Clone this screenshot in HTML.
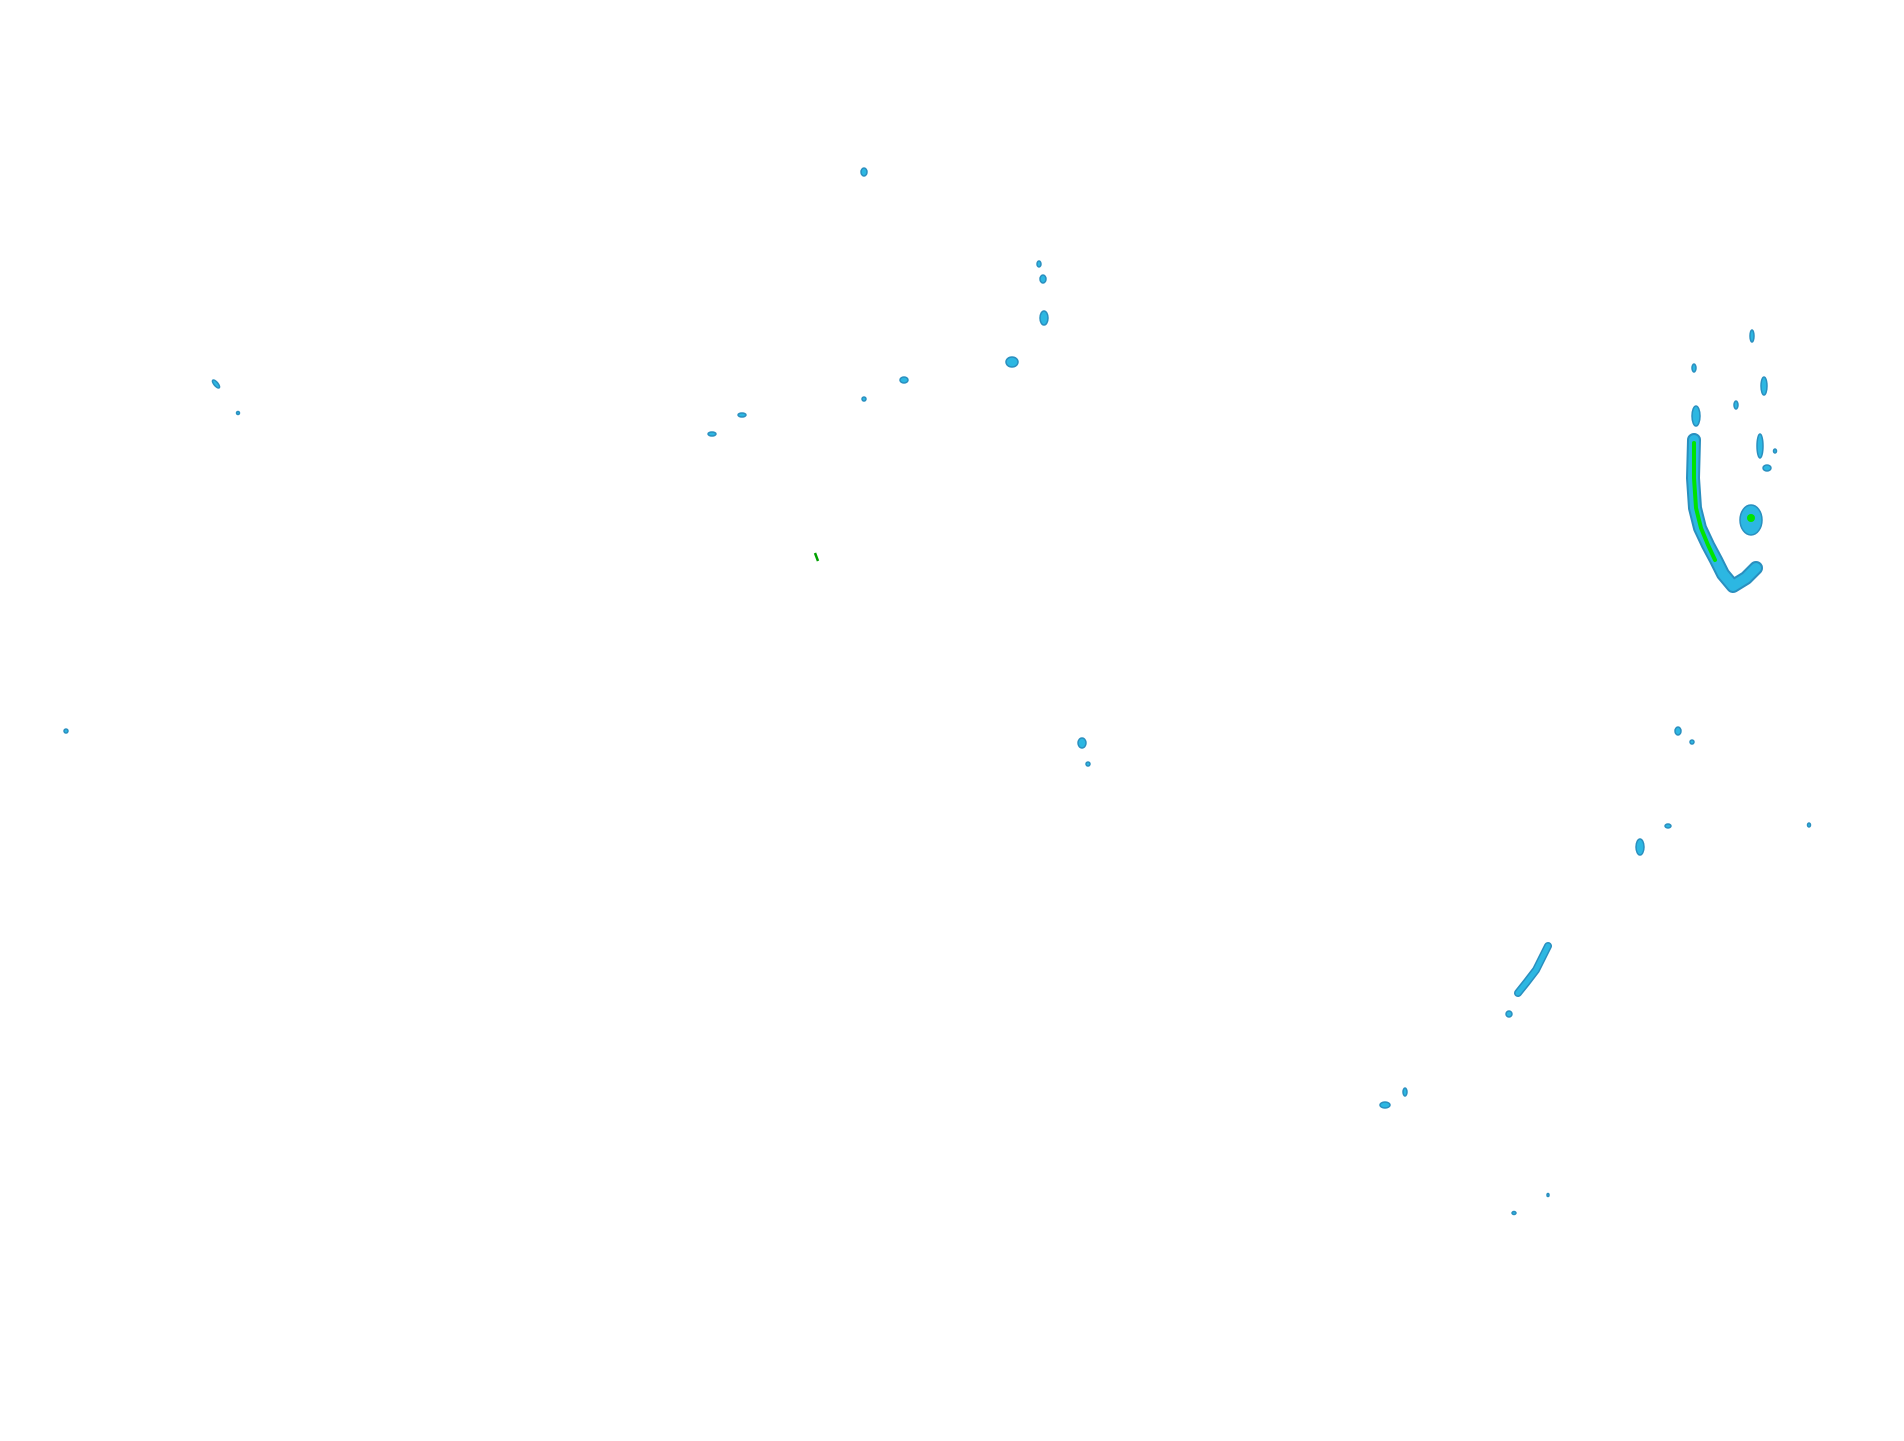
<!DOCTYPE html>
<html><head><meta charset="utf-8"><style>html,body{margin:0;padding:0;background:#fff}svg{display:block}</style></head>
<body>
<svg width="1904" height="1441" viewBox="0 0 1904 1441" xmlns="http://www.w3.org/2000/svg">
<rect width="1904" height="1441" fill="#fff"/>
<g transform="translate(-4,-2)">
<g fill="#2cb7e2" stroke="#2a8fbf" stroke-width="1.5">
<ellipse cx="868" cy="174" rx="3" ry="4"/>
<ellipse cx="1043" cy="266" rx="2" ry="3"/>
<ellipse cx="1047" cy="281" rx="3" ry="4"/>
<ellipse cx="1048" cy="320" rx="4" ry="7"/>
<ellipse cx="1016" cy="364" rx="6" ry="5"/>
<ellipse cx="908" cy="382" rx="4" ry="3"/>
<ellipse cx="868" cy="401" rx="2" ry="2"/>
<ellipse cx="746" cy="417" rx="4" ry="2"/>
<ellipse cx="716" cy="436" rx="4" ry="2"/>
<ellipse cx="220" cy="386" rx="2" ry="5" transform="rotate(-40 220 386)"/>
<ellipse cx="242" cy="415" rx="1.5" ry="1.5"/>
<ellipse cx="70" cy="733" rx="2" ry="2"/>
<ellipse cx="1086" cy="745" rx="4" ry="5"/>
<ellipse cx="1092" cy="766" rx="2" ry="2"/>
<ellipse cx="1682" cy="733" rx="3" ry="4"/>
<ellipse cx="1696" cy="744" rx="2" ry="2"/>
<ellipse cx="1672" cy="828" rx="3" ry="2"/>
<ellipse cx="1644" cy="849" rx="4" ry="8"/>
<ellipse cx="1813" cy="827" rx="1.5" ry="2"/>
<ellipse cx="1513" cy="1016" rx="3" ry="3"/>
<ellipse cx="1389" cy="1107" rx="5" ry="3"/>
<ellipse cx="1409" cy="1094" rx="2" ry="4"/>
<ellipse cx="1518" cy="1215" rx="2" ry="1.5"/>
<ellipse cx="1552" cy="1197" rx="1" ry="1.5"/>
<ellipse cx="1698" cy="370" rx="2" ry="4"/>
<ellipse cx="1700" cy="418" rx="4" ry="10"/>
<ellipse cx="1756" cy="338" rx="2" ry="6"/>
<ellipse cx="1768" cy="388" rx="3" ry="9"/>
<ellipse cx="1740" cy="407" rx="2" ry="4"/>
<ellipse cx="1764" cy="448" rx="3" ry="12"/>
<ellipse cx="1771" cy="470" rx="4" ry="3"/>
<ellipse cx="1779" cy="453" rx="1.5" ry="2"/>
<ellipse cx="1755" cy="522" rx="11" ry="15"/>
</g>
<polyline points="1552,948 1546,960 1540,972 1530,985 1522,995" fill="none" stroke="#2a8fbf" stroke-width="8" stroke-linecap="round"/>
<polyline points="1552,948 1546,960 1540,972 1530,985 1522,995" fill="none" stroke="#2cb7e2" stroke-width="5" stroke-linecap="round"/>
<polyline points="1698,442 1697,480 1699,510 1704,530 1712,547 1720,562 1727,576 1737,588 1750,580 1760,570" fill="none" stroke="#2a8fbf" stroke-width="14" stroke-linecap="round" stroke-linejoin="round"/>
<polyline points="1698,442 1697,480 1699,510 1704,530 1712,547 1720,562 1727,576 1737,588 1750,580 1760,570" fill="none" stroke="#2cb7e2" stroke-width="10" stroke-linecap="round" stroke-linejoin="round"/>
<polyline points="1698,445 1698,480 1700,510 1705,530 1712,547 1719,562" fill="none" stroke="#00e400" stroke-width="4" stroke-linecap="round"/>
<circle cx="1755" cy="520" r="4" fill="#00e400"/>
<line x1="819" y1="555" x2="822" y2="563" stroke="#00a000" stroke-width="2.5"/>
</g>
</svg>
</body></html>
